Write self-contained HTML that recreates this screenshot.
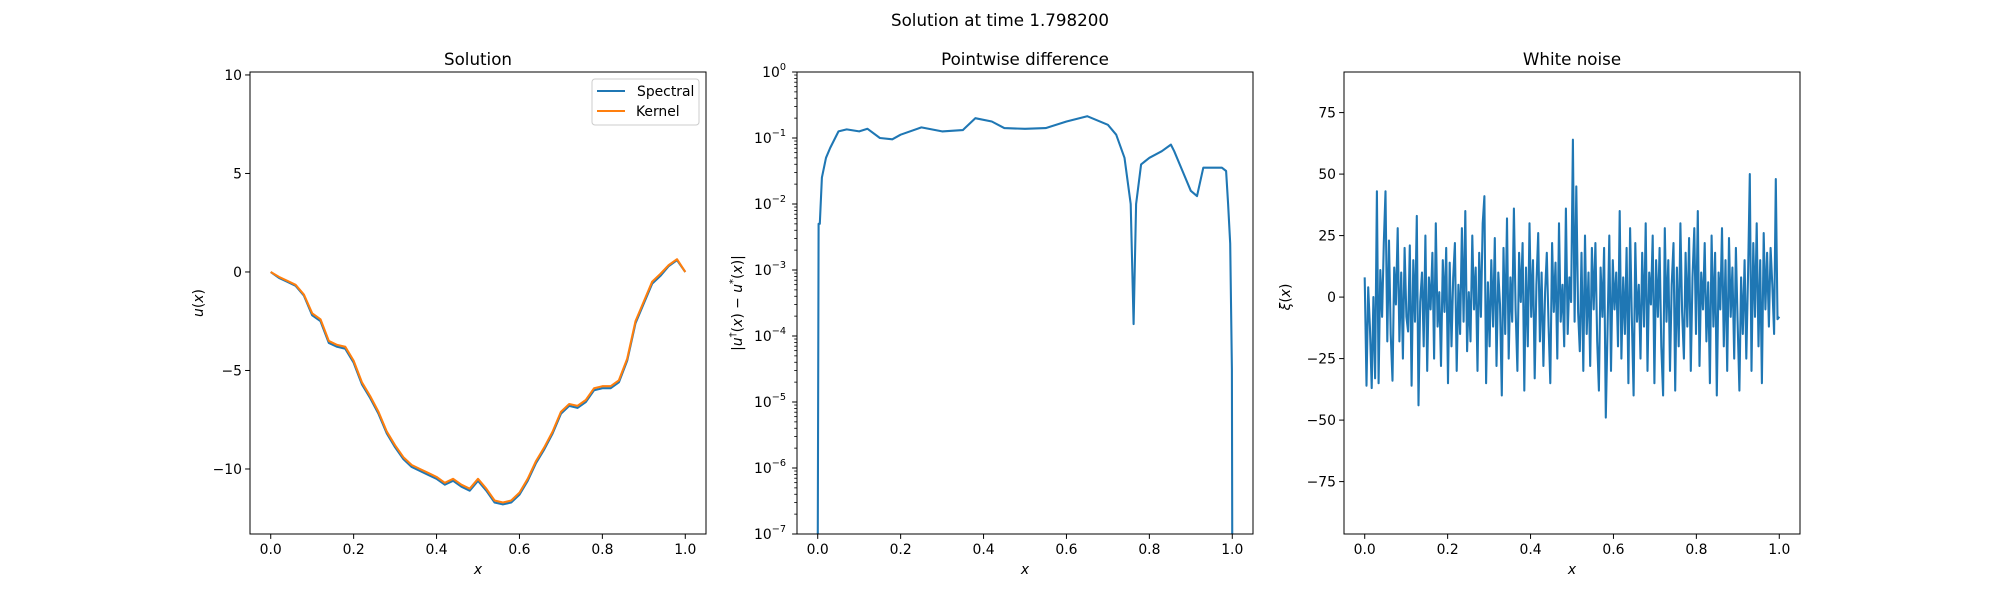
<!DOCTYPE html>
<html><head><meta charset="utf-8">
<style>
body{margin:0;background:#fff;}
svg{display:block;font-family:"DejaVu Sans","Liberation Sans",sans-serif;}
</style></head>
<body>
<svg id="fig" width="2000" height="600" viewBox="0 0 2000 600" xmlns="http://www.w3.org/2000/svg">
<rect width="2000" height="600" fill="#fff"/>
<text x="1000" y="26" font-size="16.7" text-anchor="middle">Solution at time 1.798200</text>
</svg>
<script>
// Panel 1 data
const solX = [0,0.02,0.04,0.06,0.08,0.1,0.12,0.14,0.16,0.18,0.2,0.22,0.24,0.26,0.28,0.3,0.32,0.34,0.36,0.38,0.4,0.42,0.44,0.46,0.48,0.5,0.52,0.54,0.56,0.58,0.6,0.62,0.64,0.66,0.68,0.7,0.72,0.74,0.76,0.78,0.8,0.82,0.84,0.86,0.88,0.9,0.92,0.94,0.96,0.98,1.0];
const spectral = [0,-0.3,-0.5,-0.7,-1.2,-2.2,-2.5,-3.6,-3.8,-3.9,-4.6,-5.7,-6.4,-7.2,-8.2,-8.9,-9.5,-9.9,-10.1,-10.3,-10.5,-10.8,-10.6,-10.9,-11.1,-10.6,-11.1,-11.7,-11.8,-11.7,-11.3,-10.6,-9.7,-9.0,-8.2,-7.2,-6.8,-6.9,-6.6,-6.0,-5.9,-5.9,-5.6,-4.5,-2.6,-1.6,-0.6,-0.2,0.3,0.6,0];
const kernel = [0,-0.25,-0.45,-0.65,-1.15,-2.1,-2.4,-3.5,-3.7,-3.8,-4.5,-5.6,-6.3,-7.1,-8.1,-8.8,-9.4,-9.8,-10.0,-10.2,-10.4,-10.7,-10.5,-10.8,-11.0,-10.5,-11.0,-11.6,-11.7,-11.6,-11.2,-10.5,-9.6,-8.9,-8.1,-7.1,-6.7,-6.8,-6.5,-5.9,-5.8,-5.8,-5.5,-4.4,-2.5,-1.5,-0.5,-0.1,0.35,0.65,0];
const p1YTicks = [-10,-5,0,5,10];
const xTicks = [0,0.2,0.4,0.6,0.8,1.0];
const xTickLabels = ["0.0","0.2","0.4","0.6","0.8","1.0"];
// Panel 2 data (log10 of difference)
const diffX = [0,0.002,0.005,0.01,0.02,0.03,0.05,0.07,0.1,0.12,0.15,0.18,0.2,0.25,0.3,0.35,0.38,0.42,0.45,0.5,0.55,0.6,0.65,0.7,0.72,0.74,0.755,0.762,0.768,0.78,0.8,0.83,0.852,0.86,0.88,0.9,0.915,0.93,0.95,0.975,0.985,0.99,0.995,0.999,1.0];
const diffLog = [-7.5,-2.3,-2.3,-1.6,-1.3,-1.15,-0.9,-0.87,-0.9,-0.86,-1.0,-1.02,-0.95,-0.84,-0.9,-0.88,-0.7,-0.75,-0.85,-0.86,-0.85,-0.75,-0.67,-0.8,-0.95,-1.3,-2.0,-3.82,-2.0,-1.4,-1.3,-1.2,-1.1,-1.2,-1.5,-1.8,-1.88,-1.45,-1.45,-1.45,-1.5,-2.0,-2.6,-4.5,-7.5];
const p2Decades = [0,-1,-2,-3,-4,-5,-6,-7];
// Panel 3 data
const noise = [8,-36,4,-12,-37,0,-33,43,-35,11,-8,22,43,-18,23,-15,-34,12,-3,28,
-18,10,-25,20,-8,-14,21,-36,15,-10,33,-44,-2,10,-20,25,-30,8,-5,18,
-25,30,-12,2,-28,15,-6,20,-35,14,-20,8,22,-30,5,-15,28,-10,35,-22,
2,-18,25,-5,12,-30,18,-8,30,41,-35,6,-20,15,-12,24,-28,10,-3,-40,
20,-15,32,-25,8,-10,36,-5,-30,18,-2,22,-38,12,-20,30,-8,15,-33,5,
26,-18,10,-28,2,18,-12,-35,22,-6,14,-25,30,-10,5,-20,36,-15,8,-2,
64,-10,45,-6,-22,18,-30,25,-15,10,-28,20,-5,22,-18,-38,12,-8,20,-49,
-12,25,-30,15,-5,10,-20,35,-25,8,-15,20,-35,28,-8,-40,22,-10,5,-25,
18,-12,30,-30,10,-3,25,-35,15,-8,20,-20,-40,28,-10,15,-30,5,22,-38,
12,-20,30,-6,-25,18,-12,24,-30,8,28,-15,35,-28,10,-5,22,-18,6,-35,
25,-12,18,-40,10,-5,28,-20,15,-30,24,-8,12,-25,20,-10,-38,8,-15,15,
-25,10,50,-30,22,-8,30,-20,15,-35,26,-5,18,-12,20,5,-15,48,-9,-8];
const p3YTicks = [-75,-50,-25,0,25,50,75];

const NS="http://www.w3.org/2000/svg";
const svg=document.getElementById('fig');
function mk(tag,attrs,parent){const e=document.createElementNS(NS,tag);for(const k in attrs)e.setAttribute(k,attrs[k]);(parent||svg).appendChild(e);return e;}
const TOP=72,BOT=534,W=456;
const BLUE="#1f77b4",ORANGE="#ff7f0e";

function makeAxes(left,ymin,ymax,name){
  const g=mk('g',{});
  
  
  const sx=v=>left+(v+0.05)/1.1*W;
  const sy=v=>BOT-(v-ymin)/(ymax-ymin)*(BOT-TOP);
  return {g,sx,sy,left};
}
function frame(a){
  const r=mk('rect',{x:a.left,y:TOP,width:W,height:BOT-TOP,fill:'none',stroke:'#000','stroke-width':1},a.g);
  
  
}
function xAxis(a){
  xTicks.forEach((t,i)=>{
    const x=a.sx(t);
    mk('line',{x1:x,x2:x,y1:BOT,y2:BOT+4.9,stroke:'#000','stroke-width':1},a.g);
    const tx=mk('text',{x:x,y:BOT+20,'font-size':13.9,'text-anchor':'middle'},a.g);
    
    
    tx.textContent=xTickLabels[i];
  });
  const xl=mk('text',{x:a.left+W/2,y:BOT+40,'font-size':13.9,'text-anchor':'middle','font-style':'italic'},a.g);
  
  
  xl.textContent='x';
}
function yAxisLinear(a,ticks){
  ticks.forEach(t=>{
    const y=a.sy(t);
    mk('line',{x1:a.left-4.9,x2:a.left,y1:y,y2:y,stroke:'#000','stroke-width':1},a.g);
    const tx=mk('text',{x:a.left-8,y:y+5,'font-size':13.9,'text-anchor':'end'},a.g);
    
    
    tx.textContent=(t<0?'\u2212':'')+Math.abs(t);
  });
}
function title(a,s){
  const t=mk('text',{x:a.left+W/2,y:TOP-7,'font-size':16.7,'text-anchor':'middle'},a.g);
  
  
  t.textContent=s;
}
function yTitle(x,y,s,a){
  const t=mk('text',{x:x,y:y,'font-size':13.9,'text-anchor':'middle',transform:`rotate(-90 ${x} ${y})`},a.g);
  
  
  return t;
}
function line(a,xs,ys,color,name){
  const pts=xs.map((x,i)=>a.sx(x).toFixed(1)+','+a.sy(ys[i]).toFixed(1)).join(' ');
  const p=mk('polyline',{points:pts,fill:'none',stroke:color,'stroke-width':2.08,'stroke-linejoin':'round'},a.g);
  
  
}

// Panel 1
const a1=makeAxes(250,-13.3,10.15,'solution-panel');
line(a1,solX,spectral,BLUE,'spectral-line');
line(a1,solX,kernel,ORANGE,'kernel-line');
frame(a1);xAxis(a1);yAxisLinear(a1,p1YTicks);title(a1,'Solution');
let yt=yTitle(203,303,'',a1);
yt.innerHTML='<tspan font-style="italic">u</tspan>(<tspan font-style="italic">x</tspan>)';
const lg=mk('g',{},a1.g);


mk('rect',{x:592,y:79,width:107,height:46,rx:3,fill:'#fff','fill-opacity':0.8,stroke:'#ccc','stroke-width':1},lg);
mk('line',{x1:597,x2:625,y1:91,y2:91,stroke:BLUE,'stroke-width':2.08},lg);
mk('line',{x1:597,x2:625,y1:111,y2:111,stroke:ORANGE,'stroke-width':2.08},lg);
let t1=mk('text',{x:637,y:96,'font-size':13.9},lg);t1.textContent='Spectral';


let t2=mk('text',{x:636,y:116,'font-size':13.9},lg);t2.textContent='Kernel';



// Panel 2
const a2=makeAxes(797,-7,0,'difference-panel');
const clipId='c2';
const cp=mk('clipPath',{id:clipId});mk('rect',{x:797,y:TOP,width:W,height:BOT-TOP},cp);
const g2=mk('g',{'clip-path':'url(#c2)'},a2.g);
const pts2=diffX.map((x,i)=>a2.sx(x).toFixed(1)+','+a2.sy(diffLog[i]).toFixed(1)).join(' ');
const pl2=mk('polyline',{points:pts2,fill:'none',stroke:BLUE,'stroke-width':2.08,'stroke-linejoin':'round'},g2);


frame(a2);xAxis(a2);title(a2,'Pointwise difference');
p2Decades.forEach(d=>{
  const y=a2.sy(d);
  mk('line',{x1:797-4.9,x2:797,y1:y,y2:y,stroke:'#000','stroke-width':1},a2.g);
  const tx=mk('text',{x:786,y:y+5,'font-size':13.9,'text-anchor':'end'},a2.g);
  
  
  tx.innerHTML='10<tspan dy="-7" font-size="9.7">'+(d<0?'\u2212'+(-d):d)+'</tspan>';
  if(d>-7){for(let m=2;m<10;m++){const ym=a2.sy(d-1+Math.log10(m));mk('line',{x1:797-2.8,x2:797,y1:ym,y2:ym,stroke:'#000','stroke-width':0.8},a2.g);}}
});
yt=yTitle(742,303,'',a2);
yt.innerHTML='|<tspan font-style="italic">u</tspan><tspan dy="-6" font-size="10">\u2020</tspan><tspan dy="6">(</tspan><tspan font-style="italic">x</tspan>) \u2212 <tspan font-style="italic">u</tspan><tspan dy="-6" font-size="10">*</tspan><tspan dy="6">(</tspan><tspan font-style="italic">x</tspan>)|';

// Panel 3
const a3=makeAxes(1344,-96.3,91.5,'noise-panel');
const nx=noise.map((v,i)=>i/(noise.length-1));
line(a3,nx,noise,BLUE,'noise-line');
frame(a3);xAxis(a3);yAxisLinear(a3,p3YTicks);title(a3,'White noise');
yt=yTitle(1290,297,'',a3);
yt.innerHTML='<tspan font-style="italic">\u03BE</tspan>(<tspan font-style="italic">x</tspan>)';
</script>
</body></html>
